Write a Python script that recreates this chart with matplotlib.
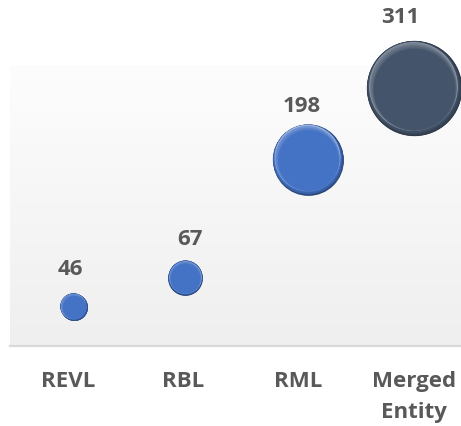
import matplotlib
matplotlib.use("Agg")
import matplotlib.pyplot as plt
import matplotlib.transforms as mtransforms
from matplotlib.colors import to_rgb
import numpy as np

plt.rcParams["font.family"] = ["Open Sans", "DejaVu Sans"]

# data
categories = ["REVL", "RBL", "RML", "Merged\nEntity"]
values = [46, 67, 198, 311]
bubble_x = [0.05, 1.02, 2.08, 3.0]
bubble_y = [42, 73, 199, 275]
bubble_colors = ["#4472c4", "#4472c4", "#4472c4", "#44546a"]

TEXT = "#595959"


def mix(c1, c2, t):
    a = np.array(to_rgb(c1))
    b = np.array(to_rgb(c2))
    return tuple(a + (b - a) * t)


def radius_pt(v):
    # bubble radius in points, grows with the value
    return 34.3 * (v / max(values)) ** 0.66


def draw_bubble(ax, fig, x, y, r, base):
    dark = mix(base, "#000000", 0.4)
    light = mix(base, "#ffffff", 0.45)
    layers = []
    # dark rim at the bottom -> base colour
    n = 10
    for i in range(n):
        t = i / (n - 1)
        layers.append((1.0 - 0.06 * t, 0.05 * t, mix(dark, base, t ** 0.7)))
    # light bevel near the top, fading back to the base colour
    n = 10
    for i in range(n):
        t = i / (n - 1)
        layers.append((0.93 - 0.08 * t, 0.06 - 0.08 * t, mix(light, base, t ** 0.6)))
    for scale, dy, col in layers:
        tr = mtransforms.offset_copy(ax.transData, fig=fig, x=-0.25 * dy * r,
                                     y=dy * r, units="points")
        ax.scatter([x], [y], s=(2 * r * scale) ** 2, color=[col],
                   linewidths=0, transform=tr, clip_on=False, zorder=3)


fig = plt.figure(figsize=(4.61, 4.26), dpi=100)
ax = fig.add_axes([10 / 461, 80 / 426, 451 / 461, 281 / 426])

# soft vertical gradient of the plot area
grad = np.linspace(0, 1, 256).reshape(-1, 1)
top = np.array(to_rgb("#fdfdfd"))
bot = np.array(to_rgb("#efefef"))
img = top + (bot - top) * grad[:, :, None] * np.ones((1, 1, 3))
ax.imshow(img, extent=[0, 1, 0, 1], transform=ax.transAxes, aspect="auto",
          zorder=0, interpolation="bilinear")

ax.set_xlim(-0.501, 3.41)
ax.set_ylim(0, 300)

for x, y, v, c in zip(bubble_x, bubble_y, values, bubble_colors):
    r = radius_pt(v)
    draw_bubble(ax, fig, x, y, r, c)

label_dx = [-2.5, 3, -4, -9.5]
label_gap = [17, 15, 13, 17]
for x, y, v, dx, gap in zip(bubble_x, bubble_y, values, label_dx, label_gap):
    ax.annotate(str(v), (x, y), xytext=(dx, radius_pt(v) + gap),
                textcoords="offset points", ha="center", va="center",
                fontsize=16, fontweight="bold", color=TEXT, zorder=5,
                annotation_clip=False)

ax.set_xticks(range(len(categories)))
ax.set_xticklabels(categories, fontsize=16, fontweight="bold", color=TEXT,
                   linespacing=1.65, ma="center")
ax.tick_params(axis="x", length=0, pad=18)
ax.set_yticks([])

for side in ["top", "left", "right"]:
    ax.spines[side].set_visible(False)
ax.spines["bottom"].set_color("#d9d9d9")
ax.spines["bottom"].set_linewidth(1.6)
ax.spines["bottom"].set_zorder(4)

fig.savefig("out.png", dpi=100, facecolor="white")
